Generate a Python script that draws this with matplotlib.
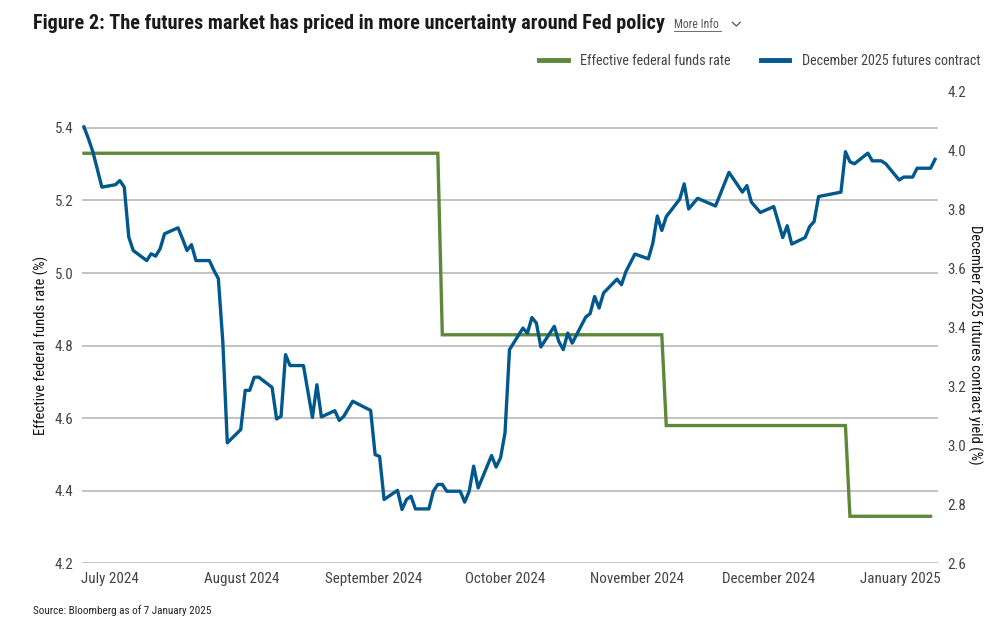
import matplotlib
matplotlib.use('Agg')
import matplotlib.pyplot as plt
import matplotlib.dates as mdates
from matplotlib.lines import Line2D
import pandas as pd
import numpy as np

plt.rcParams['font.family'] = ['Roboto Condensed', 'DejaVu Sans']

# Effective federal funds rate (left axis), step changes after each cut
effr_dates = ['2024-07-01', '2024-09-18', '2024-09-19', '2024-11-07',
              '2024-11-08', '2024-12-18', '2024-12-19', '2025-01-06']
effr = [5.33, 5.33, 4.83, 4.83, 4.58, 4.58, 4.33, 4.33]

# December 2025 futures contract implied yield (right axis)
fut_dates = [
    '2024-07-01', '2024-07-02', '2024-07-03', '2024-07-05', '2024-07-08',
    '2024-07-09', '2024-07-10', '2024-07-11', '2024-07-12', '2024-07-15',
    '2024-07-16', '2024-07-17', '2024-07-18', '2024-07-19', '2024-07-22',
    '2024-07-23', '2024-07-24', '2024-07-25', '2024-07-26', '2024-07-29',
    '2024-07-30', '2024-07-31', '2024-08-01', '2024-08-02', '2024-08-05',
    '2024-08-06', '2024-08-07', '2024-08-08', '2024-08-09', '2024-08-12',
    '2024-08-13', '2024-08-14', '2024-08-15', '2024-08-16', '2024-08-19',
    '2024-08-21', '2024-08-22', '2024-08-23', '2024-08-26', '2024-08-27',
    '2024-08-28', '2024-08-30', '2024-09-03', '2024-09-04', '2024-09-05',
    '2024-09-06', '2024-09-09', '2024-09-10', '2024-09-11', '2024-09-12',
    '2024-09-13', '2024-09-16', '2024-09-17', '2024-09-18', '2024-09-19',
    '2024-09-20', '2024-09-23', '2024-09-24', '2024-09-25', '2024-09-26',
    '2024-09-27', '2024-09-30', '2024-10-01', '2024-10-02', '2024-10-03',
    '2024-10-04', '2024-10-07', '2024-10-08', '2024-10-09', '2024-10-10',
    '2024-10-11', '2024-10-14', '2024-10-15', '2024-10-16', '2024-10-17',
    '2024-10-18', '2024-10-21', '2024-10-22', '2024-10-23', '2024-10-24',
    '2024-10-25', '2024-10-28', '2024-10-29', '2024-10-30', '2024-11-01',
    '2024-11-04', '2024-11-05', '2024-11-06', '2024-11-07', '2024-11-08',
    '2024-11-11', '2024-11-12', '2024-11-13', '2024-11-15', '2024-11-19',
    '2024-11-22', '2024-11-25', '2024-11-26', '2024-11-27', '2024-11-29',
    '2024-12-02', '2024-12-04', '2024-12-05', '2024-12-06', '2024-12-09',
    '2024-12-10', '2024-12-11', '2024-12-12', '2024-12-17', '2024-12-18',
    '2024-12-19', '2024-12-20', '2024-12-23', '2024-12-24', '2024-12-26',
    '2024-12-27', '2024-12-30', '2024-12-31', '2025-01-02', '2025-01-03',
    '2025-01-06', '2025-01-07']
fut_yield = [
    4.080, 4.040, 3.995, 3.876, 3.884, 3.898, 3.876, 3.707, 3.661, 3.627,
    3.650, 3.642, 3.667, 3.718, 3.738, 3.701, 3.661, 3.681, 3.627, 3.627,
    3.594, 3.566, 3.351, 3.009, 3.054, 3.187, 3.187, 3.231, 3.232, 3.197,
    3.090, 3.099, 3.308, 3.271, 3.271, 3.095, 3.206, 3.097, 3.118, 3.085,
    3.099, 3.150, 3.119, 2.969, 2.963, 2.817, 2.848, 2.783, 2.817, 2.828,
    2.785, 2.785, 2.845, 2.868, 2.868, 2.845, 2.845, 2.808, 2.845, 2.930,
    2.856, 2.966, 2.927, 2.958, 3.043, 3.325, 3.398, 3.381, 3.434, 3.415,
    3.334, 3.404, 3.353, 3.325, 3.381, 3.347, 3.435, 3.447, 3.505, 3.466,
    3.517, 3.564, 3.545, 3.590, 3.649, 3.633, 3.686, 3.778, 3.729, 3.776,
    3.835, 3.887, 3.802, 3.838, 3.812, 3.926, 3.859, 3.881, 3.825, 3.790,
    3.810, 3.705, 3.745, 3.683, 3.705, 3.742, 3.759, 3.844, 3.859, 3.996,
    3.962, 3.955, 3.991, 3.965, 3.965, 3.955, 3.900, 3.910, 3.910, 3.940,
    3.940, 3.970]

month_labels = ['July 2024', 'August 2024', 'September 2024', 'October 2024',
                'November 2024', 'December 2024', 'January 2025']

green = '#5e873a'
blue = '#00588c'
text_grey = '#444444'

effr_x = pd.to_datetime(effr_dates)
fut_x = pd.to_datetime(fut_dates)

fig = plt.figure(figsize=(10.08, 6.27), dpi=100)
ax = fig.add_axes([0.0813, 0.1013, 0.8492, 0.7527])
ax2 = ax.twinx()

ax.plot(effr_x, effr, color=green, lw=2.4, solid_joinstyle='miter',
        label='Effective federal funds rate')
ax2.plot(fut_x, fut_yield, color=blue, lw=2.4,
         label='December 2025 futures contract')

ax.set_ylim(4.2, 5.5)
ax.set_yticks(np.arange(4.2, 5.41, 0.2))
ax2.set_ylim(2.6, 4.2)
ax2.set_yticks(np.arange(2.6, 4.21, 0.2))
ax.yaxis.set_major_formatter(plt.FormatStrFormatter('%.1f'))
ax2.yaxis.set_major_formatter(plt.FormatStrFormatter('%.1f'))

start = mdates.date2num(fut_x[0])
end = mdates.date2num(fut_x[-1])
ax.set_xlim(start - 0.45, end + 0.65)
ax.set_xticks(start + np.linspace(5.8, 182.2, len(month_labels)))
ax.set_xticklabels(month_labels)

ax.grid(axis='y', color='#b3b3b3', lw=1.1)
ax.set_axisbelow(True)
for a in (ax, ax2):
    for s in a.spines.values():
        s.set_visible(False)
    a.tick_params(length=0, labelsize=10.8, labelcolor=text_grey)
ax.tick_params(axis='y', pad=6)
ax2.tick_params(axis='y', pad=7)
ax.tick_params(axis='x', pad=6)

ax.set_ylabel('Effective federal funds rate (%)', fontsize=10.5,
              color='#111111', va='center')
ax.yaxis.set_label_coords(-0.047, 0.463)
ax2.set_ylabel('December 2025 futures contract yield (%)', fontsize=10.5,
               color='#111111', rotation=270, va='center')
ax2.yaxis.set_label_coords(1.043, 0.463)

# title and "More Info" link
fig.text(0.033, 0.962, 'Figure 2: The futures market has priced in more uncertainty around Fed policy',
         fontsize=14.6, fontweight='bold', color='#1a1a1a', va='center')
fig.text(0.669, 0.961, 'More Info', fontsize=8.5, color='#555555', va='center')
fig.add_artist(Line2D([0.669, 0.715], [0.951, 0.951], color='#555555', lw=0.6))
fig.add_artist(Line2D([0.7265, 0.7305, 0.7345], [0.9645, 0.9585, 0.9645],
                      color='#555555', lw=0.9))

h1, l1 = ax.get_legend_handles_labels()
h2, l2 = ax2.get_legend_handles_labels()
leg = fig.legend(h1 + h2, l1 + l2, loc='center right', ncol=2,
                 bbox_to_anchor=(0.985, 0.902), frameon=False, fontsize=10.2,
                 handlelength=2.0, handletextpad=0.9, columnspacing=2.1)
for line in leg.get_lines():
    line.set_linewidth(3.5)
for t in leg.get_texts():
    t.set_color(text_grey)

fig.text(0.033, 0.027, 'Source: Bloomberg as of 7 January 2025', fontsize=8,
         color='#222222', va='center')

plt.savefig('out.png', dpi=100)
